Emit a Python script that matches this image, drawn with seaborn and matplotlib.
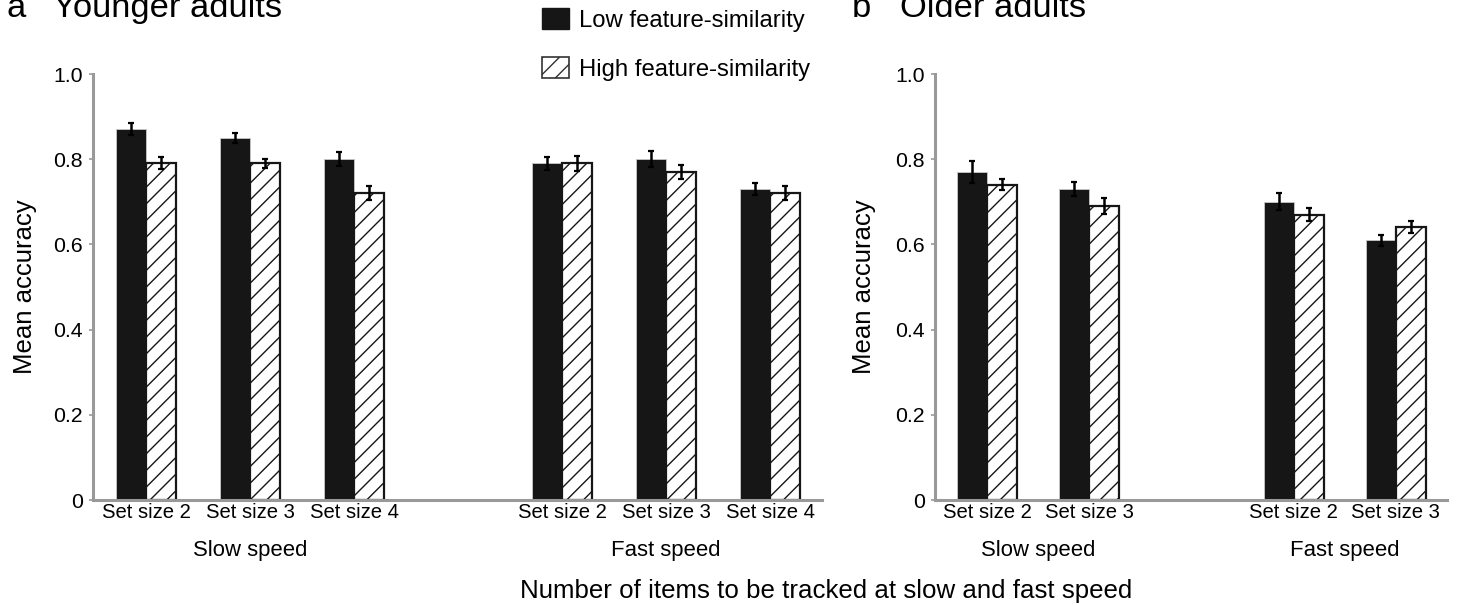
import matplotlib
matplotlib.use("Agg")
import matplotlib.pyplot as plt
import seaborn as sns
import pandas as pd
import numpy as np
from matplotlib.patches import Patch
from matplotlib.ticker import FuncFormatter

# ---------------- data ----------------
similarity = ["Low feature-similarity", "High feature-similarity"]

# Panel a: younger adults
young_conditions = ["Slow 2", "Slow 3", "Slow 4", "Fast 2", "Fast 3", "Fast 4"]
young_low = [0.87, 0.85, 0.80, 0.79, 0.80, 0.73]
young_low_err = [0.014, 0.012, 0.017, 0.015, 0.019, 0.014]
young_high = [0.79, 0.79, 0.72, 0.79, 0.77, 0.72]
young_high_err = [0.014, 0.010, 0.016, 0.018, 0.016, 0.016]
young_ticklabels = ["Set size 2", "Set size 3", "Set size 4",
                    "Set size 2", "Set size 3", "Set size 4"]

# Panel b: older adults
old_conditions = ["Slow 2", "Slow 3", "Fast 2", "Fast 3"]
old_low = [0.77, 0.73, 0.70, 0.61]
old_low_err = [0.025, 0.017, 0.020, 0.013]
old_high = [0.74, 0.69, 0.67, 0.64]
old_high_err = [0.013, 0.018, 0.016, 0.014]
old_ticklabels = ["Set size 2", "Set size 3", "Set size 2", "Set size 3"]

speed_labels = ["Slow speed", "Fast speed"]
yticks = [0, 0.2, 0.4, 0.6, 0.8, 1.0]

# ---------------- style ----------------
sns.set_theme(style="white")
plt.rcParams["font.family"] = ["Liberation Sans", "DejaVu Sans"]
plt.rcParams["text.color"] = "black"
plt.rcParams["axes.labelcolor"] = "black"
plt.rcParams["xtick.color"] = "black"
plt.rcParams["ytick.color"] = "black"
plt.rcParams["legend.labelcolor"] = "black"
plt.rcParams["hatch.linewidth"] = 1.0
plt.rcParams["hatch.color"] = "black"

SPINE = "#999999"
BLACK = "#161616"

fig = plt.figure(figsize=(14.57, 6.06), dpi=100)
W, H = 1457, 606

def fx(px):
    return px / W

def fy(py):
    return 1 - py / H

y_top, y_bot = 74, 500
ax_a = fig.add_axes([fx(93), fy(y_bot), fx(822 - 93), (y_bot - y_top) / H])
ax_b = fig.add_axes([fx(935), fy(y_bot), fx(1447 - 935), (y_bot - y_top) / H])


def draw_panel(ax, conds, low, low_err, high, high_err, ticklabels, gap_after,
               ylabel_x, width):
    # order with an empty "gap" category between slow and fast speed
    order = conds[:gap_after] + ["gap"] + conds[gap_after:]
    df = pd.DataFrame({
        "condition": conds * 2,
        "similarity": [similarity[0]] * len(conds) + [similarity[1]] * len(conds),
        "accuracy": list(low) + list(high),
    })
    sns.barplot(data=df, x="condition", y="accuracy", hue="similarity",
                order=order, hue_order=similarity,
                palette=[BLACK, "white"], width=width, errorbar=None,
                legend=False, ax=ax, saturation=1)

    errs = [low_err, high_err]
    bar_containers = list(ax.containers)[:2]
    for ci, cont in enumerate(bar_containers):
        patches = sorted(cont.patches, key=lambda p: p.get_x())
        xs, hs = [], []
        for p in patches:
            if np.isnan(p.get_height()):
                continue
            xs.append(p.get_x() + p.get_width() / 2)
            hs.append(p.get_height())
            if ci == 0:
                p.set_edgecolor("#c8c8c8")
                p.set_linewidth(0.6)
            else:
                p.set_facecolor("white")
                p.set_hatch("//")
                p.set_edgecolor(BLACK)
                p.set_linewidth(1.6)
        ax.errorbar(xs, hs, yerr=errs[ci], fmt="none", ecolor="black",
                    elinewidth=1.8, capsize=2.3, capthick=1.6, zorder=5)

    n = len(order)
    ax.set_xlim(-0.51, n - 0.5)
    ax.set_ylim(0, 1.0)
    ax.set_yticks(yticks)
    ax.yaxis.set_major_formatter(FuncFormatter(lambda v, p: "0" if v == 0 else f"{v:.1f}"))

    tick_pos = [i for i, c in enumerate(order) if c != "gap"]
    ax.set_xticks(tick_pos)
    ax.set_xticklabels(ticklabels)
    ax.tick_params(axis="x", length=0, pad=2.5, labelsize=14.6, labelcolor="black")
    ax.tick_params(axis="y", left=True, length=3, width=1.2, color=SPINE,
                   pad=4.5, labelsize=15.3, labelcolor="black")

    for s in ["top", "right"]:
        ax.spines[s].set_visible(False)
    for s in ["left", "bottom"]:
        ax.spines[s].set_color(SPINE)
        ax.spines[s].set_linewidth(2.2)

    ax.set_xlabel("")
    ax.set_ylabel("Mean accuracy", fontsize=18.5, color="black", va="center")
    ax.yaxis.set_label_coords(ylabel_x, 0.5)

    # group (speed) labels
    slow_center = np.mean(tick_pos[:gap_after])
    fast_center = np.mean(tick_pos[gap_after:])
    for cx, lab in zip([slow_center, fast_center], speed_labels):
        ax.annotate(lab, xy=(cx, 0), xycoords=("data", "axes fraction"),
                    xytext=(0, -40.5), textcoords="offset points",
                    ha="center", va="baseline", fontsize=15.9, color="black")


draw_panel(ax_a, young_conditions, young_low, young_low_err, young_high,
           young_high_err, young_ticklabels, 3, (25 - 93) / (822 - 93), 0.58)
draw_panel(ax_b, old_conditions, old_low, old_low_err, old_high,
           old_high_err, old_ticklabels, 2, (864 - 935) / (1447 - 935), 0.59)

# panel titles (the reference crops their tops at the image edge)
fig.text(fx(6), fy(17), "a", fontsize=24.8, ha="left", va="baseline", color="black")
fig.text(fx(53), fy(17), "Younger adults", fontsize=24.8, ha="left", va="baseline", color="black")
fig.text(fx(852), fy(17), "b", fontsize=24.8, ha="left", va="baseline", color="black")
fig.text(fx(900), fy(17), "Older adults", fontsize=24.8, ha="left", va="baseline", color="black")

# legend
handles = [Patch(facecolor=BLACK, edgecolor=BLACK, label=similarity[0]),
           Patch(facecolor="white", edgecolor="#333333", hatch="//",
                 linewidth=1.2, label=similarity[1])]
fig.legend(handles=handles, loc="upper left", bbox_to_anchor=(fx(542), fy(8)),
           frameon=False, fontsize=17.2, handlelength=1.13, handleheight=1.0,
           handletextpad=0.42, labelspacing=1.05, borderaxespad=0, borderpad=0,
           labelcolor="black")

# common x label
fig.text(fx(826), fy(598), "Number of items to be tracked at slow and fast speed",
         fontsize=18.6, ha="center", va="baseline", color="black")

fig.savefig("out.png", dpi=100)
